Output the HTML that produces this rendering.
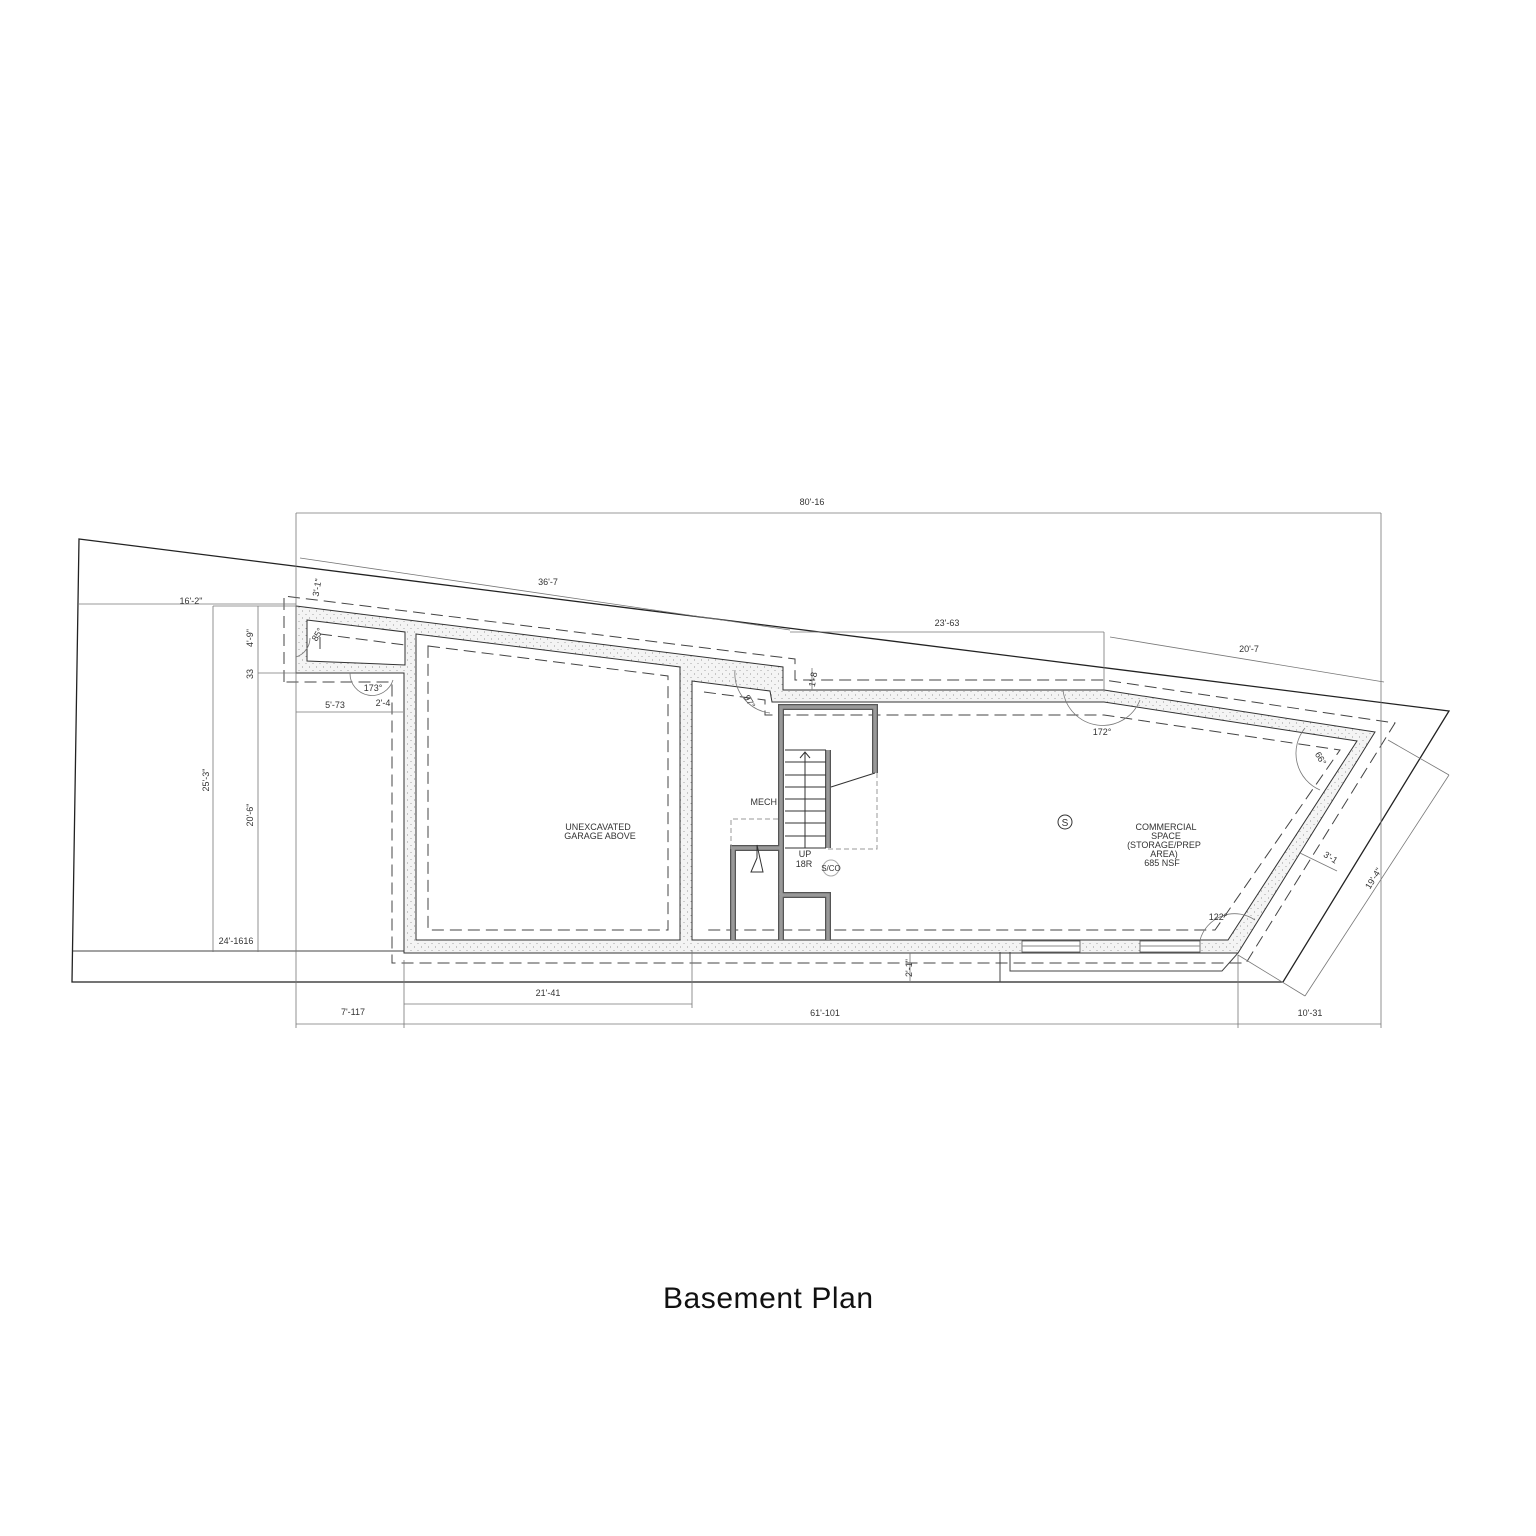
<!DOCTYPE html>
<html><head><meta charset="utf-8"><style>
html,body{margin:0;padding:0;background:#fff;}
svg{display:block}
text{font-family:"Liberation Sans",sans-serif;fill:#333}
</style></head><body>
<svg width="1536" height="1536" viewBox="0 0 1536 1536" xmlns="http://www.w3.org/2000/svg">
<defs>
<pattern id="dots" width="7" height="7" patternUnits="userSpaceOnUse">
<rect width="7" height="7" fill="#f4f4f4"/>
<circle cx="1.5" cy="2" r="0.5" fill="#777"/><circle cx="5" cy="5.5" r="0.5" fill="#888"/>
</pattern>
</defs>
<path d="M79,539 L1449,711 L1283,982 L72,982 Z" fill="none" stroke="#222" stroke-width="1.3"/>
<line x1="73" y1="951" x2="404" y2="951" stroke="#444" stroke-width="1"/>

<path fill="url(#dots)" stroke="#333" stroke-width="1" fill-rule="evenodd" d="
M296,606 L783,667 L783,690 L1104,690 L1375,732 L1238,953 L404,953 L404,673 L296,673 Z
M307,620 L405,632 L405,665 L307,661 Z
M416,634 L680,667 L680,940 L416,940 Z
M692,681 L770,691 L772,702 L1104,702 L1357,741 L1228,940 L692,940 Z"/>
<rect x="1022" y="941" width="58" height="11" fill="#fff" stroke="#555" stroke-width="0.8"/>
<line x1="1022" y1="946" x2="1080" y2="946" stroke="#888"/>
<rect x="1140" y="941" width="60" height="11" fill="#fff" stroke="#555" stroke-width="0.8"/>
<line x1="1140" y1="946" x2="1200" y2="946" stroke="#888"/>

<g fill="none" stroke="#444" stroke-width="1" stroke-dasharray="12,6">
<path d="M284,682 L284,596 L795,659 L795,680 L1104,680 L1395,723 L1246,963 L392,963 L392,682 Z"/>
<path d="M320,634 L405,645 M320,649 L320,634"/>
<path d="M428,646 L668,676 L668,930 L428,930 Z"/>
<path d="M704,692 L765,700 L765,715 L1104,715 L1340,750 L1215,930 L704,930"/>
</g>
<path d="M1010,952 L1010,971 L1222,971 L1238,953" fill="none" stroke="#444"/>
<line x1="1000" y1="952" x2="1000" y2="982" stroke="#444"/>

<g fill="none" stroke="#555" stroke-width="6">
<path d="M781,940 L781,895 L828,895 L828,940"/>
<path d="M781,895 L781,707 L875,707 L875,773"/>
<path d="M733,940 L733,848 L781,848"/>
<path d="M828,750 L828,848"/>
</g>
<g fill="none" stroke="#999" stroke-width="3.5">
<path d="M781,940 L781,895 L828,895 L828,940"/>
<path d="M781,895 L781,707 L875,707 L875,773"/>
<path d="M733,940 L733,848 L781,848"/>
<path d="M828,750 L828,848"/>
</g>
<g stroke="#333" stroke-width="1" fill="none">
<path d="M785,750 L826,750 M785,762 L826,762 M785,775 L826,775 M785,787 L826,787 M785,799 L826,799 M785,811 L826,811 M785,823 L826,823 M785,836 L826,836 M785,848 L826,848"/>
<path d="M805,848 L805,752 M800,758 L805,752 L810,758"/>
<path d="M831,787 L875,773"/>
<path d="M757,845 L757,858 L751,872 L763,872 Z"/>
</g>
<path d="M731,849 L731,819 L781,819 M828,849 L877,849 L877,773" fill="none" stroke="#999" stroke-dasharray="5,3"/>
<circle cx="831" cy="868" r="8" fill="none" stroke="#aaa"/>
<circle cx="1065" cy="822" r="7" fill="none" stroke="#333"/>

<g stroke="#777" stroke-width="0.8" fill="none">
<line x1="296" y1="513" x2="1381" y2="513"/>
<line x1="296" y1="513" x2="296" y2="1028"/>
<line x1="1381" y1="513" x2="1381" y2="1028"/>
<line x1="296" y1="1024" x2="1381" y2="1024"/>
<line x1="404" y1="1004" x2="692" y2="1004"/>
<line x1="404" y1="960" x2="404" y2="1028"/>
<line x1="692" y1="950" x2="692" y2="1008"/>
<line x1="1238" y1="955" x2="1238" y2="1028"/>
<line x1="79" y1="604" x2="296" y2="604"/>
<line x1="213" y1="606" x2="213" y2="952"/>
<line x1="258" y1="606" x2="258" y2="952"/>
<line x1="213" y1="606" x2="296" y2="606"/>
<line x1="258" y1="673" x2="296" y2="673"/>
<line x1="296" y1="712" x2="403" y2="712"/>
<line x1="300" y1="558" x2="790" y2="630"/>
<line x1="790" y1="632" x2="1104" y2="632"/>
<line x1="1104" y1="632" x2="1104" y2="690"/>
<line x1="1110" y1="637" x2="1384" y2="682"/>
<line x1="1449" y1="775" x2="1305" y2="996"/>
<line x1="1388" y1="740" x2="1449" y2="775"/>
<line x1="1238" y1="955" x2="1305" y2="996"/>
<line x1="1300" y1="853" x2="1337" y2="871"/>
<line x1="910" y1="953" x2="910" y2="982"/>
<line x1="812" y1="668" x2="812" y2="690"/>
<path d="M1063,690 A40,40 0 0 0 1140,700" />
<path d="M1305,728 A40,40 0 0 0 1320,790" />
<path d="M1200,940 A36,36 0 0 1 1255,920" />
<path d="M735,670 A40,40 0 0 0 770,713" />
<path d="M350,673 A22,22 0 0 0 393,680" />
<path d="M310,638 A20,20 0 0 1 296,657" />
</g>

<g font-size="9" text-anchor="middle">
<text x="812" y="505">80'-16</text>
<text x="548" y="585">36'-7</text>
<text x="947" y="626">23'-63</text>
<text x="1249" y="652">20'-7</text>
<text x="191" y="604">16'-2"</text>
<text x="353" y="1015">7'-117</text>
<text x="548" y="996">21'-41</text>
<text x="825" y="1016">61'-101</text>
<text x="1310" y="1016">10'-31</text>
<text x="236" y="944">24'-1616</text>
<text x="335" y="708">5'-73</text>
<text x="383" y="706">2'-4</text>
<text x="373" y="691">173°</text>
<text x="1102" y="735">172°</text>
<text x="1218" y="920">122°</text>
<text transform="translate(209,780) rotate(-90)">25'-3"</text>
<text transform="translate(253,815) rotate(-90)">20'-6"</text>
<text transform="translate(253,638) rotate(-90)">4'-9"</text>
<text transform="translate(253,674) rotate(-90)">33</text>
<text transform="translate(320,588) rotate(-80)">3'-1"</text>
<text transform="translate(816,680) rotate(-80)">1'-8</text>
<text transform="translate(912,968) rotate(-90)">2'-1"</text>
<text transform="translate(1376,880) rotate(-58)">19'-4"</text>
<text transform="translate(1329,860) rotate(32)">3'-1</text>
<text transform="translate(1318,760) rotate(60)">66°</text>
<text transform="translate(747,703) rotate(60)">97°</text>
<text transform="translate(320,636) rotate(-60)">85°</text>
<text x="777" y="805" font-size="9" text-anchor="end">MECH</text>
<text x="598" y="830">UNEXCAVATED</text>
<text x="600" y="839">GARAGE ABOVE</text>
<text x="1166" y="830">COMMERCIAL</text>
<text x="1166" y="839">SPACE</text>
<text x="1164" y="848">(STORAGE/PREP</text>
<text x="1164" y="857">AREA)</text>
<text x="1162" y="866">685 NSF</text>
<text x="805" y="857">UP</text>
<text x="804" y="867">18R</text>
<text x="831" y="871" font-size="8">S/CO</text>
<text x="1065" y="826" font-size="10">S</text>
</g>
<text x="768" y="1308" font-size="30" text-anchor="middle" style="fill:#111" textLength="210" lengthAdjust="spacing">Basement Plan</text>
</svg>
</body></html>
